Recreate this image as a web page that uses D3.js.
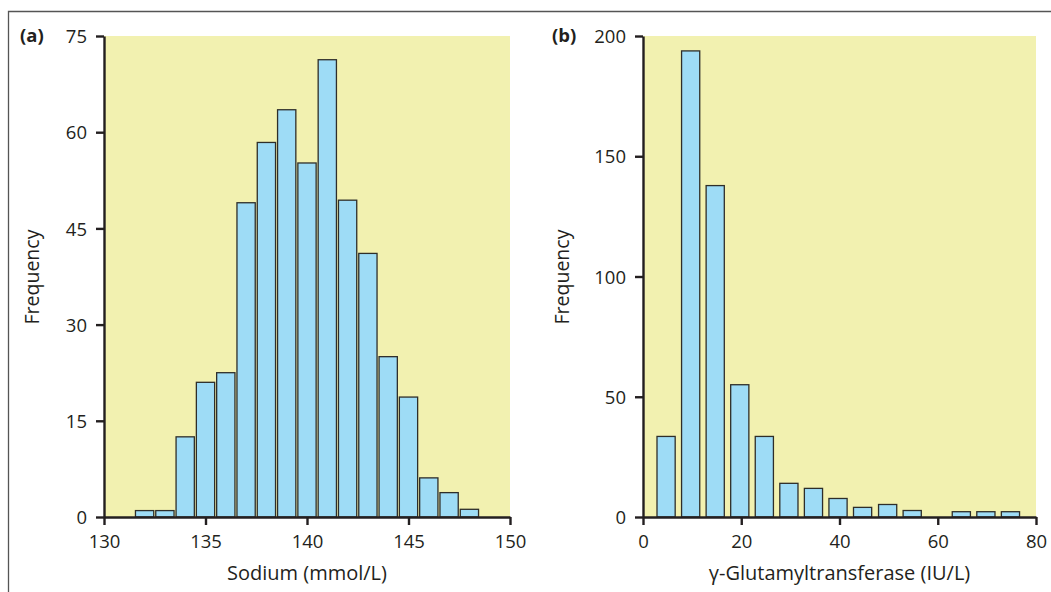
<!DOCTYPE html>
<html>
<head>
<meta charset="utf-8">
<script src="https://cdn.jsdelivr.net/npm/d3@7"></script>
<style>
  body { margin: 0; background: #fff; }
  svg text { font-family: "Open Sans", "Noto Sans", sans-serif; fill: #231f20; }
</style>
</head>
<body>
<div id="chart"></div>
<script>
/* Panel (a): sodium, one bin per mmol/L */
const sodiumBins = [132, 133, 134, 135, 136, 137, 138, 139, 140, 141, 142, 143, 144, 145, 146, 147, 148];
const sodiumFreq = [1, 1, 12.5, 21, 22.5, 49, 58.4, 63.5, 55.2, 71.3, 49.4, 41.1, 25, 18.7, 6.1, 3.8, 1.2];
const sodiumTicksX = [130, 135, 140, 145, 150];
const sodiumTicksY = [0, 15, 30, 45, 60, 75];

/* Panel (b): gamma-GT, bins of 5 IU/L */
const ggtBins = [4.7, 9.7, 14.7, 19.7, 24.7, 29.7, 34.7, 39.7, 44.7, 49.8, 54.8, 59.8, 64.8, 69.8, 74.8];
const ggtFreq = [33.5, 193.8, 137.8, 55, 33.5, 14, 11.9, 7.7, 4, 5.2, 2.7, 0, 2.2, 2.2, 2.2];
const ggtTicksX = [0, 20, 40, 60, 80];
const ggtTicksY = [0, 50, 100, 150, 200];

const width = 1051, height = 592;
const bgYellow = "#f2f1b0";
const barBlue = "#9edcf6";
const ink = "#231f20";

const svg = d3.select("#chart").append("svg")
  .attr("width", width)
  .attr("height", height);

/* outer frame: top and left edges only */
svg.append("path")
  .attr("d", "M8.5," + height + "V11.5H" + width)
  .attr("fill", "none")
  .attr("stroke", "#555")
  .attr("stroke-width", 1.3);

function drawPanel(opts) {
  const x = d3.scaleLinear().domain(opts.xDomain).range([opts.left, opts.right]);
  const y = d3.scaleLinear().domain(opts.yDomain).range([517, 36]);

  const g = svg.append("g");

  g.append("rect")
    .attr("x", opts.left)
    .attr("y", 36)
    .attr("width", opts.right - opts.left)
    .attr("height", 517 - 36)
    .attr("fill", bgYellow);

  g.selectAll("rect.bar")
    .data(opts.bins.map((b, i) => ({ mid: b, f: opts.freq[i] })).filter(d => d.f > 0))
    .enter()
    .append("rect")
    .attr("class", "bar")
    .attr("x", d => x(d.mid - opts.binWidth / 2))
    .attr("width", d => x(d.mid + opts.binWidth / 2) - x(d.mid - opts.binWidth / 2))
    .attr("y", d => y(d.f))
    .attr("height", d => y(0) - y(d.f))
    .attr("fill", barBlue)
    .attr("stroke", "#2e2e2a")
    .attr("stroke-width", 1.3);

  const xAxis = g.append("g")
    .attr("transform", "translate(0,517)")
    .call(d3.axisBottom(x).tickValues(opts.xTicks).tickSize(8).tickPadding(10).tickSizeOuter(0));
  const yAxis = g.append("g")
    .attr("transform", "translate(" + opts.left + ",0)")
    .call(d3.axisLeft(y).tickValues(opts.yTicks).tickSize(8).tickPadding(9).tickSizeOuter(0));

  [xAxis, yAxis].forEach(a => {
    a.attr("font-family", null).attr("font-size", null);
    a.selectAll("path, line").attr("stroke", ink).attr("stroke-width", 2.4);
    a.selectAll("text").style("font-size", "18.5px").attr("fill", ink);
  });
  yAxis.selectAll("text").attr("dy", "0.36em");

  g.append("text")
    .attr("x", (opts.left + opts.right) / 2)
    .attr("y", 580)
    .attr("text-anchor", "middle")
    .style("font-size", "20px")
    .text(opts.xTitle);

  g.append("text")
    .attr("transform", "translate(" + opts.yTitleX + ",277) rotate(-90)")
    .attr("text-anchor", "middle")
    .style("font-size", "19.5px")
    .text("Frequency");

  g.append("text")
    .attr("x", opts.tagX)
    .attr("y", 42)
    .style("font-size", "18.5px")
    .style("font-weight", "bold")
    .text(opts.tag);
}

drawPanel({
  left: 104, right: 510,
  xDomain: [130, 150], yDomain: [0, 75],
  bins: sodiumBins, freq: sodiumFreq, binWidth: 0.9,
  xTicks: sodiumTicksX, yTicks: sodiumTicksY,
  xTitle: "Sodium (mmol/L)", yTitleX: 39, tag: "(a)", tagX: 20
});

drawPanel({
  left: 643, right: 1036,
  xDomain: [0, 80], yDomain: [0, 200],
  bins: ggtBins, freq: ggtFreq, binWidth: 3.7,
  xTicks: ggtTicksX, yTicks: ggtTicksY,
  xTitle: "γ-Glutamyltransferase (IU/L)", yTitleX: 569, tag: "(b)", tagX: 552
});
</script>
</body>
</html>
